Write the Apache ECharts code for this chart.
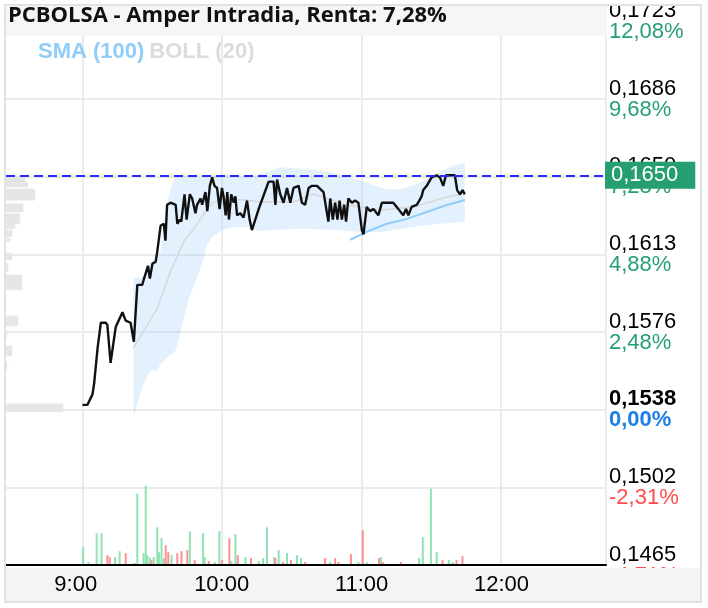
<!DOCTYPE html>
<html>
<head>
<meta charset="utf-8">
<script src="https://cdn.jsdelivr.net/npm/echarts@6/dist/echarts.min.js"></script>
<style>
  html, body { margin: 0; padding: 0; background: #fff; }
  #chart { width: 708px; height: 608px; }
</style>
</head>
<body>
<div id="chart"></div>
<script>
// minutes after 9:00, price
var priceTicks = [
  [0,0.1541],[2.1,0.1541],[4.3,0.1546],[5.0,0.1551],[6.5,0.1568],[7.9,0.1580],[10.0,0.1580],[10.7,0.1579],
  [12.1,0.1561],[12.8,0.1561],[14.3,0.1578],[17.2,0.1585],[18.6,0.1581],[20.7,0.1580],[22.1,0.1571],[23.6,0.1598],
  [25.7,0.1598],[26.5,0.1601],[28.2,0.1607],[29.0,0.1601],[30.1,0.1608],[31.5,0.1609],[32.2,0.1614],[33.6,0.1626],
  [35.0,0.1627],[35.7,0.1619],[36.4,0.1636],[37.9,0.1637],[40.1,0.1636],[40.8,0.1627],[41.9,0.1629],[42.5,0.1628],
  [43.9,0.1641],[44.8,0.1629],[46.2,0.1641],[47.2,0.1639],[48.6,0.1632],[49.3,0.1636],[50.8,0.1639],[51.5,0.1636],
  [52.9,0.1642],[53.7,0.1633],[54.8,0.1645],[55.8,0.1649],[56.8,0.1645],[57.9,0.1644],[59.0,0.1634],[60.0,0.1644],
  [60.7,0.1640],[61.6,0.1631],[62.3,0.1642],[63.0,0.1629],[64.0,0.1641],[65.1,0.1637],[65.8,0.1640],[66.5,0.1631],
  [67.9,0.1632],[69.3,0.1630],[70.8,0.1638],[71.9,0.1629],[72.9,0.1624],[75.8,0.1634],[80.1,0.1647],[82.2,0.1647],
  [83.0,0.1636],[83.7,0.1648],[85.1,0.1641],[86.5,0.1637],[88.0,0.1644],[89.4,0.1637],[90.8,0.1644],[93.0,0.1645],
  [94.4,0.1637],[95.8,0.1636],[97.3,0.1644],[98.7,0.1645],[100.9,0.1645],[103.7,0.1642],[105.8,0.1628],[106.6,0.1639],
  [107.7,0.1629],[108.7,0.1637],[109.7,0.1629],[110.6,0.1638],[111.6,0.1629],[112.6,0.1636],[113.4,0.1628],[114.4,0.1639],
  [115.9,0.1637],[117.3,0.1638],[118.7,0.1637],[120.2,0.1624],[120.9,0.1622],[122.3,0.1635],[123.7,0.1633],[125.2,0.1634],
  [126.6,0.1632],[127.3,0.1631],[128.8,0.1637],[130.9,0.1637],[133.7,0.1637],[135.2,0.1635],[136.6,0.1633],[138.0,0.1631],
  [139.2,0.1634],[140.2,0.1631],[141.6,0.1635],[143.8,0.1636],[144.9,0.1638],[145.9,0.1640],[146.6,0.1643],[148.1,0.1645],
  [150.2,0.1649],[152.4,0.1650],[153.8,0.1649],[155.2,0.1645],[156.4,0.1650],[158.8,0.1650],[160.2,0.1650],[161.2,0.1643],
  [162.4,0.1641],[163.5,0.1643],[164.5,0.1641]
];

var bollUpper = [
  [22.0,0.16015],[25.0,0.16011],[26.4,0.16029],[27.9,0.16077],[30.0,0.16091],[33.6,0.16138],[35.0,0.16279],
  [36.5,0.16373],[37.9,0.16434],[40.0,0.16500],[50.8,0.16491],[59.4,0.16505],[72.2,0.16491],[85.1,0.16538],
  [99.3,0.16528],[106.6,0.16514],[113.7,0.16491],[119.4,0.16477],[125.2,0.16453],[130.9,0.16434],[136.6,0.16434],
  [142.3,0.16453],[148.1,0.16481],[153.8,0.16514],[159.5,0.16547],[164.5,0.16561]
];
var bollLower = [
  [22.0,0.15352],[24.3,0.15446],[26.4,0.15512],[27.6,0.15540],[29.3,0.15573],[32.2,0.15573],[33.6,0.15606],
  [36.5,0.15634],[40.0,0.15667],[41.5,0.15728],[43.6,0.15822],[45.8,0.15916],[48.6,0.15996],[52.2,0.16105],
  [53.6,0.16171],[55.8,0.16208],[57.9,0.16223],[60.1,0.16241],[65.1,0.16255],[70.8,0.16255],[73.6,0.16241],
  [76.5,0.16236],[83.7,0.16241],[93.7,0.16246],[107.9,0.16241],[119.4,0.16231],[128.0,0.16231],[142.2,0.16255],
  [153.8,0.16270],[164.5,0.16279]
];
var bollMid = [
  [21.9,0.15681],[26.4,0.15761],[32.2,0.15869],[37.9,0.16044],[43.6,0.16185],[47.9,0.16246],[50.8,0.16293],
  [53.6,0.16340],[56.5,0.16373],[62.2,0.16387],[70.8,0.16383],[76.5,0.16373],[90.8,0.16373],[99.3,0.16411],
  [113.7,0.16359],[128.0,0.16335],[142.2,0.16350],[149.5,0.16373],[156.7,0.16397],[164.5,0.16411]
];
var sma100 = [
  [115.2,0.16194],[122.3,0.16232],[130.9,0.16270],[139.5,0.16293],[148.1,0.16326],[156.7,0.16359],[164.5,0.16383]
];

// minutes after 9:00, volume (k), side: 1 up / -1 down
var volumes = [
  [0.3,18,1],[2.6,3,1],[6.1,32,1],[8.2,32,1],[10.7,10,-1],[11.7,8,-1],[14.0,8,1],[16.0,14,1],[18.6,12,-1],
  [22.6,2,1],[23.6,72,1],[26.3,12,1],[27.2,80,1],[27.8,10,1],[28.9,8,1],[29.7,5,-1],[30.7,8,1],[32.2,38,1],
  [32.9,13,1],[34.0,27,1],[35.0,7,1],[35.8,20,-1],[36.9,13,-1],[38.3,10,1],[40.8,12,-1],[42.6,14,-1],[45.1,15,-1],
  [46.2,34,1],[48.3,5,-1],[51.9,32,1],[52.6,8,1],[54.3,4,-1],[56.9,3,1],[58.9,34,1],[60.1,5,-1],[63.2,27,-1],
  [64.1,4,1],[65.8,31,1],[66.8,10,-1],[70.1,8,1],[72.5,7,-1],[75.8,4,1],[77.7,7,1],[79.4,38,1],[82.5,8,1],
  [83.0,7,-1],[84.4,15,1],[86.3,3,-1],[88.0,12,1],[89.7,5,-1],[92.3,10,1],[94.0,7,1],[95.8,3,-1],[104.4,7,-1],
  [106.6,3,1],[108.7,7,-1],[110.1,3,-1],[115.5,11,-1],[118.7,3,1],[120.6,35,-1],[122.3,3,1],[127.6,7,-1],
  [128.5,8,1],[129.2,3,-1],[137.0,3,-1],[144.8,7,1],[146.4,28,1],[149.9,77,1],[152.4,13,1],[154.9,5,-1],
  [157.6,5,1],[159.2,3,1],[160.9,5,-1],[163.5,9,-1]
];

// volume by price: low, high, volume
var profileLow  = [0.16467,0.16444,0.16381,0.16326,0.16271,0.16247,0.16208,0.16185,0.16099,0.16044,0.15957,0.15785,0.15730,0.15643,0.15573,0.15376];
var profileHigh = [0.16491,0.16467,0.16436,0.16365,0.16318,0.16271,0.16240,0.16200,0.16130,0.16083,0.16028,0.15832,0.15753,0.15690,0.15612,0.15416];
var profileVol  = [19,22,29,17,14,9,6,4,6,2,16,12,1,6,1,57];

var priceLabels = ['0,1465','0,1502','0,1538','0,1576','0,1613','0,1650','0,1686','0,1723'];
var pctLabels   = ['-4,71%','-2,31%','0,00%','2,48%','4,88%','7,28%','9,68%','12,08%'];
var refPrice = 0.1650;
var refLabel = '0,1650';

var yMin = 0.1465, yStep = 0.003686, yMax = yMin + 7 * yStep;
var T0 = Date.UTC(2024, 0, 15, 9, 0, 0);
var xMinMin = -32.9, xMaxMin = 224.8;

function ts(m) { return T0 + m * 60000; }
function toXY(arr) { return arr.map(function(d) { return [ts(d[0]), d[1]]; }); }

var font = "'Liberation Sans', Arial, sans-serif";
var green = '#269f71', red = '#ff4b4b';

var chart = echarts.init(document.getElementById('chart'), null, { renderer: 'canvas' });

var timeAxisBase = {
  type: 'time', min: ts(xMinMin), max: ts(xMaxMin),
  minInterval: 3600000, maxInterval: 3600000,
  position: 'bottom', gridIndex: 0
};

chart.setOption({
  animation: false,
  useUTC: true,
  title: [{
    text: 'PCBOLSA - Amper Intradia, Renta: 7,28%',
    left: 8, top: 5, padding: 0,
    textStyle: { fontFamily: "'Open Sans', sans-serif", fontSize: 22, fontWeight: 'bold', color: '#111' }
  }, {
    text: '{a|SMA (100)} {b|BOLL (20)}',
    left: 38, top: 41, padding: 0,
    textStyle: {
      rich: {
        a: { fontFamily: font, fontSize: 22, fontWeight: 'bold', color: '#90cdf8' },
        b: { fontFamily: font, fontSize: 22, fontWeight: 'bold', color: '#dcdcdc' }
      }
    }
  }],
  grid: { left: 5, right: 102, top: 16, bottom: 43 },
  xAxis: [
    Object.assign({}, timeAxisBase, {
      z: 0,
      axisLine: { show: false }, axisTick: { show: false }, axisLabel: { show: false },
      splitLine: { show: true, lineStyle: { color: '#ebebeb', width: 2 } }
    }),
    Object.assign({}, timeAxisBase, {
      z: 5,
      axisLine: { show: true, lineStyle: { color: '#000', width: 2 } },
      axisTick: { show: false },
      splitLine: { show: false },
      axisLabel: {
        show: true, margin: 9, color: '#000', fontSize: 22, fontFamily: font,
        showMinLabel: false, showMaxLabel: false,
        formatter: function(v) {
          var d = new Date(v);
          var s = d.getUTCHours() + ':' + ('0' + d.getUTCMinutes()).slice(-2);
          return d.getUTCHours() < 10 ? '{s|' + s + '}' : s;
        },
        rich: { s: { fontSize: 22, fontFamily: font, color: '#000', padding: [0, 12, 0, 0] } }
      }
    }),
    { type: 'value', gridIndex: 0, position: 'top', min: 0, max: 600, show: false }
  ],
  yAxis: [{
    type: 'value', position: 'right', min: yMin, max: yMax, interval: yStep, z: 0,
    axisLine: { show: true, lineStyle: { color: '#000', width: 2 } },
    axisTick: { show: false },
    splitLine: { show: true, lineStyle: { color: '#ebebeb', width: 2 } },
    axisLabel: {
      show: true, margin: 3, fontFamily: font,
      formatter: function(v) {
        var i = Math.round((v - yMin) / yStep);
        if (i < 0 || i >= priceLabels.length) return '';
        var pStyle = i === 2 ? 'pb' : 'p';
        var cStyle = i === 2 ? 'z' : (i < 2 ? 'r' : 'g');
        return '{' + pStyle + '|' + priceLabels[i] + '}\n{' + cStyle + '|' + pctLabels[i] + '}';
      },
      rich: {
        p: { fontSize: 22, lineHeight: 21, color: '#000', fontFamily: font },
        pb: { fontSize: 22, lineHeight: 21, color: '#000', fontWeight: 'bold', fontFamily: font },
        g: { fontSize: 22, lineHeight: 21, color: green, fontFamily: font },
        r: { fontSize: 22, lineHeight: 21, color: red, fontFamily: font },
        z: { fontSize: 22, lineHeight: 21, color: '#1f7fe6', fontWeight: 'bold', fontFamily: font }
      }
    }
  }, {
    type: 'value', gridIndex: 0, min: 0, max: 548, show: false
  }],
  series: [{
    name: 'profile', type: 'custom', xAxisIndex: 2, yAxisIndex: 0, z: 2,
    data: profileVol.map(function(v, i) { return [profileLow[i], profileHigh[i], v]; }),
    renderItem: function(params, api) {
      var a = api.coord([0, api.value(1)]);
      var b = api.coord([api.value(2), api.value(0)]);
      return { type: 'rect', shape: { x: a[0] + 1, y: a[1], width: b[0] - a[0], height: b[1] - a[1] },
        style: { fill: '#e6e6e6', shadowBlur: 3, shadowColor: 'rgba(0,0,0,0.08)' } };
    }
  }, {
    name: 'band', type: 'custom', xAxisIndex: 0, yAxisIndex: 0, z: 2,
    data: [[ts(bollUpper[0][0]), bollUpper[0][1]]],
    renderItem: function(params, api) {
      var pts = bollUpper.map(function(d) { return api.coord([ts(d[0]), d[1]]); });
      var lo = bollLower.slice().reverse().map(function(d) { return api.coord([ts(d[0]), d[1]]); });
      return { type: 'polygon', shape: { points: pts.concat(lo) }, style: { fill: 'rgba(144,202,249,0.26)' } };
    }
  }, {
    name: 'BOLL', type: 'line', xAxisIndex: 0, yAxisIndex: 0, z: 3,
    data: toXY(bollMid), showSymbol: false,
    lineStyle: { color: '#d8d8d8', width: 1.5 }
  }, {
    name: 'SMA', type: 'line', xAxisIndex: 0, yAxisIndex: 0, z: 3,
    data: toXY(sma100), showSymbol: false,
    lineStyle: { color: '#90cdf8', width: 2 }
  }, {
    name: 'Volumen', type: 'bar', xAxisIndex: 0, yAxisIndex: 1, z: 2, barWidth: 2,
    data: volumes.map(function(d) {
      return { value: [ts(d[0]), d[1]], itemStyle: { color: d[2] > 0 ? '#8fe3b3' : '#ff9090' } };
    })
  }, {
    name: 'Precio', type: 'line', xAxisIndex: 0, yAxisIndex: 0, z: 4,
    data: toXY(priceTicks), showSymbol: false,
    lineStyle: { color: '#111', width: 2.4 },
    markLine: {
      silent: true, symbol: 'none',
      lineStyle: { color: '#2a2aff', type: [9, 5], width: 2 },
      label: {
        show: true, position: 'end', distance: 0, formatter: refLabel,
        backgroundColor: '#259e71', color: '#fff', fontSize: 22, fontFamily: font,
        padding: [3, 17, 2, 6], borderRadius: 0
      },
      data: [[{ coord: [ts(xMinMin), refPrice] }, { coord: [ts(xMaxMin), refPrice] }]]
    }
  }],
  graphic: [
    { type: 'rect', z: 1, shape: { x: 0, y: 0, width: 708, height: 5 }, style: { fill: '#fff' } },
    { type: 'rect', z: 1, shape: { x: 6, y: 6, width: 601, height: 30 }, style: { fill: '#f6f6f6' } },
    { type: 'rect', z: 1, shape: { x: 6, y: 568, width: 695, height: 34 }, style: { fill: '#f4f4f4' } },
    { type: 'rect', z: 10, shape: { x: 5, y: 5, width: 696, height: 597 },
      style: { fill: 'none', stroke: '#e2e2e2', lineWidth: 2 } }
  ]
});
window.addEventListener('resize', function() { chart.resize(); });
</script>
</body>
</html>
